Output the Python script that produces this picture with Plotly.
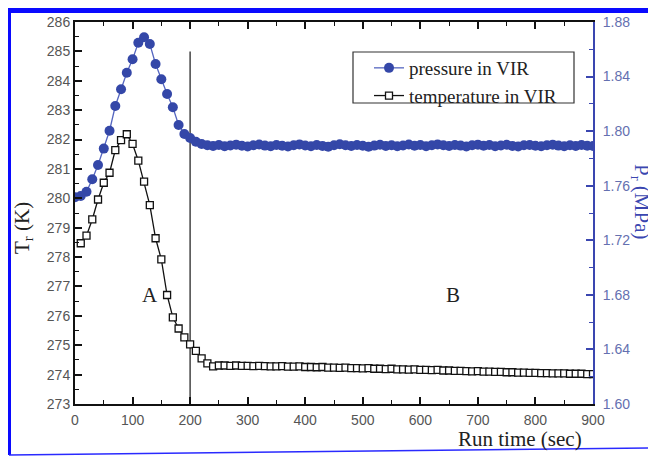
import plotly.graph_objects as go

# ---------------- data ----------------
p_time = [0, 10, 20, 30, 40, 50, 60, 70, 80, 90, 100, 110, 120, 130, 140, 150, 160, 170, 180, 190,
          200, 210, 220, 230, 240, 250, 260, 270, 280, 290, 300, 310, 320, 330, 340, 350, 360, 370,
          380, 390, 400, 410, 420, 430, 440, 450, 460, 470, 480, 490, 500, 510, 520, 530, 540, 550,
          560, 570, 580, 590, 600, 610, 620, 630, 640, 650, 660, 670, 680, 690, 700, 710, 720, 730,
          740, 750, 760, 770, 780, 790, 800, 810, 820, 830, 840, 850, 860, 870, 880, 890, 900]
pressure = [1.7515, 1.7525, 1.7556, 1.7647, 1.7752, 1.7872, 1.8003, 1.8184, 1.8307, 1.8428,
            1.8527, 1.8648, 1.8688, 1.8639, 1.8492, 1.8380, 1.8272, 1.8175, 1.8045, 1.7979,
            1.7950, 1.7922, 1.7906, 1.7897, 1.7892, 1.7898, 1.7890, 1.7895, 1.7901, 1.7893,
            1.7888, 1.7897, 1.7902, 1.7894, 1.7889, 1.7899, 1.7893, 1.7887, 1.7896, 1.7903,
            1.7895, 1.7890, 1.7898, 1.7892, 1.7886, 1.7897, 1.7904, 1.7896, 1.7891, 1.7899,
            1.7893, 1.7886, 1.7894, 1.7900, 1.7892, 1.7897, 1.7889, 1.7895, 1.7902, 1.7893,
            1.7898, 1.7890, 1.7896, 1.7903, 1.7897, 1.7891, 1.7899, 1.7894, 1.7888, 1.7896,
            1.7901, 1.7893, 1.7898, 1.7890, 1.7895, 1.7900, 1.7892, 1.7887, 1.7896, 1.7899,
            1.7893, 1.7889, 1.7897, 1.7901, 1.7894, 1.7890, 1.7896, 1.7892, 1.7898, 1.7893,
            1.7891]

t_time = p_time[1:]
temperature = [278.47, 278.73, 279.28, 279.96, 280.53, 280.87, 281.64, 281.98, 282.18, 281.85,
               281.28, 280.57, 279.77, 278.64, 277.92, 276.71, 275.95, 275.57, 275.27, 275.03,
               274.81, 274.55, 274.38, 274.28, 274.31, 274.31, 274.30, 274.31, 274.30, 274.30,
               274.29, 274.30, 274.29, 274.28, 274.28, 274.29, 274.27, 274.27, 274.28, 274.26,
               274.26, 274.25, 274.26, 274.24, 274.24, 274.23, 274.24, 274.22, 274.22, 274.21,
               274.22, 274.20, 274.20, 274.19, 274.20, 274.18, 274.18, 274.17, 274.18, 274.16,
               274.16, 274.15, 274.16, 274.14, 274.14, 274.13, 274.13, 274.12, 274.11, 274.12,
               274.10, 274.10, 274.09, 274.09, 274.08, 274.08, 274.07, 274.07, 274.06, 274.06,
               274.05, 274.05, 274.04, 274.04, 274.04, 274.03, 274.03, 274.03, 274.02, 274.02]

x_ticks = [0, 100, 200, 300, 400, 500, 600, 700, 800, 900]
t_ticks = [273, 274, 275, 276, 277, 278, 279, 280, 281, 282, 283, 284, 285, 286]
p_ticks = [1.60, 1.64, 1.68, 1.72, 1.76, 1.80, 1.84, 1.88]
divider_time = 200
region_labels = ["A", "B"]
region_pos = [(130, 276.7), (657, 276.7)]

# ---------------- figure ----------------
# the page body adds an 8 px margin, so the figure is 8 px smaller than the window
OFF = 8
W, H = 656 - OFF, 457 - OFF
L, R, T, B = 75, 593, 22, 404          # plot area in window pixels


def px(xp):
    return (xp - L) / (R - L)


def py(yp):
    return (B - yp) / (B - T)


BLUE_PT = "#3447a8"
BLUE_AX = "#3a46b0"
SERIF = "Liberation Serif"
SANS = "Liberation Sans"

fig = go.Figure()
fig.add_trace(go.Scatter(
    x=p_time, y=pressure, yaxis="y2", name="pressure in VIR", mode="lines+markers",
    line=dict(color="#5566c0", width=1.3),
    marker=dict(symbol="circle", size=10, color=BLUE_PT),
))
fig.add_trace(go.Scatter(
    x=t_time, y=temperature, yaxis="y", name="temperature in VIR", mode="lines+markers",
    line=dict(color="#111111", width=1.3),
    marker=dict(symbol="square", size=7, color="white", line=dict(color="#111111", width=1.3)),
))

shapes = [
    dict(type="line", xref="x", yref="y", x0=divider_time, x1=divider_time, y0=285, y1=273,
         line=dict(color="#444444", width=1.5), layer="below"),
    # legend box
    dict(type="rect", xref="paper", yref="paper", x0=px(353), x1=px(574), y0=py(103), y1=py(52),
         line=dict(color="#333333", width=1.2), fillcolor="white", layer="below"),
    # blue page frame
    dict(type="rect", xref="paper", yref="paper", x0=px(8), x1=px(11), y0=py(455), y1=py(8),
         line=dict(width=0), fillcolor="#0a0aff"),
    dict(type="rect", xref="paper", yref="paper", x0=px(8), x1=px(660), y0=py(13), y1=py(8),
         line=dict(width=0), fillcolor="#0a0aff"),
    dict(type="line", xref="paper", yref="paper", x0=px(9), x1=px(652), y0=py(455), y1=py(448),
         line=dict(color="#2a2aff", width=1.5)),
]

ann_common = dict(showarrow=False, xanchor="center", yanchor="middle")
annotations = [
    dict(text=region_labels[0], x=region_pos[0][0], y=region_pos[0][1], xref="x", yref="y",
         font=dict(family=SERIF, size=21, color="#222"), **ann_common),
    dict(text=region_labels[1], x=region_pos[1][0], y=region_pos[1][1], xref="x", yref="y",
         font=dict(family=SERIF, size=21, color="#222"), **ann_common),
    dict(text="T<sub>r</sub> (K)", x=px(23), y=py(228), xref="paper", yref="paper",
         textangle=-90, font=dict(family=SERIF, size=21, color="#222"), **ann_common),
    dict(text="P<sub>r</sub> (MPa)", x=px(641), y=py(202), xref="paper", yref="paper",
         textangle=90, font=dict(family=SERIF, size=21, color=BLUE_AX), **ann_common),
    dict(text="Run time (sec)", x=px(520), y=py(439), xref="paper", yref="paper",
         font=dict(family=SERIF, size=21, color="#222"), **ann_common),
]

fig.update_layout(
    width=W, height=H,
    margin=dict(l=L - OFF, r=656 - R, t=T - OFF, b=457 - B),
    paper_bgcolor="white", plot_bgcolor="white",
    showlegend=True,
    legend=dict(x=px(369), y=py(49), xanchor="left", yanchor="top",
                bgcolor="rgba(0,0,0,0)", borderwidth=0,
                font=dict(family=SERIF, size=19, color="#222"), tracegroupgap=0),
    shapes=shapes, annotations=annotations,
    xaxis=dict(range=[0, 900], tickvals=x_ticks, ticks="inside", ticklen=7, tickwidth=1.5,
               tickcolor="#111", showline=True, linecolor="#111", linewidth=2, mirror="ticks",
               showgrid=False, zeroline=False, automargin=False, ticklabelstandoff=2,
               minor=dict(dtick=50, ticks="inside", ticklen=4, tickwidth=1.2, tickcolor="#111"),
               tickfont=dict(family=SANS, size=14, color="#555")),
    yaxis=dict(range=[273, 286], tickvals=t_ticks, ticks="inside", ticklen=7, tickwidth=1.5,
               tickcolor="#111", showline=True, linecolor="#111", linewidth=2,
               showgrid=False, zeroline=False, automargin=False,
               minor=dict(dtick=0.5, ticks="inside", ticklen=4, tickwidth=1.2, tickcolor="#111"),
               tickfont=dict(family=SANS, size=14, color="#555")),
    yaxis2=dict(range=[1.60, 1.88], tickvals=p_ticks, tickformat=".2f", overlaying="y",
                side="right", ticks="inside", ticklen=7, tickwidth=1.5, tickcolor=BLUE_AX,
                showline=True, linecolor=BLUE_AX, linewidth=2, showgrid=False, zeroline=False,
                automargin=False, ticklabelstandoff=5,
                minor=dict(dtick=0.02, ticks="inside", ticklen=4, tickwidth=1.2, tickcolor=BLUE_AX),
                tickfont=dict(family=SANS, size=14, color="#6470b0")),
)

fig.write_html("out.html")
